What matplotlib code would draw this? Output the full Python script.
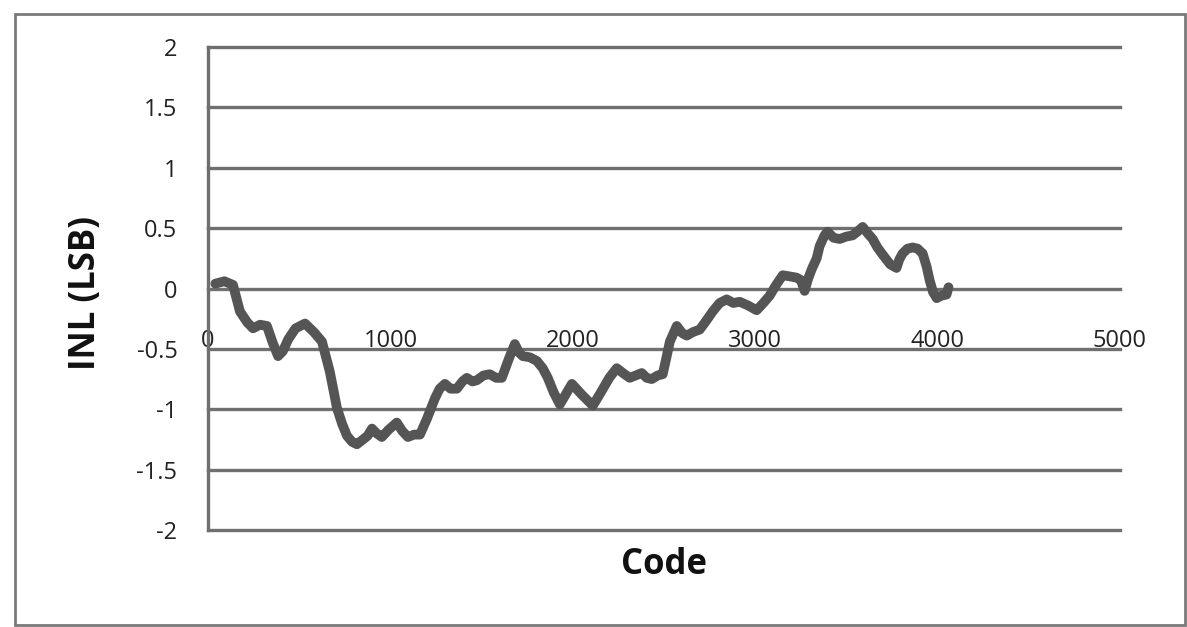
import matplotlib

matplotlib.use("Agg")
import matplotlib.pyplot as plt
from matplotlib.patches import Rectangle

# INL of a 12-bit converter, sampled along the code range
codes = [
    40, 90, 137, 175, 215, 247, 285, 323, 355, 384, 410, 440, 480, 532, 580, 625,
    668, 707, 735, 762, 790, 816, 850, 875, 899, 925, 953, 990, 1035, 1065, 1096,
    1130, 1162, 1200, 1244, 1270, 1299, 1330, 1364, 1395, 1419, 1450, 1474, 1510,
    1545, 1580, 1611, 1650, 1682, 1705, 1726, 1765, 1803, 1835, 1863, 1895, 1929,
    1960, 1995, 2050, 2110, 2150, 2200, 2241, 2275, 2312, 2345, 2378, 2405, 2433,
    2465, 2493, 2515, 2532, 2570, 2600, 2625, 2660, 2696, 2730, 2767, 2805, 2844,
    2880, 2915, 2960, 3008, 3045, 3079, 3115, 3151, 3190, 3227, 3250, 3271, 3290,
    3310, 3337, 3353, 3380, 3397, 3430, 3463, 3500, 3534, 3560, 3589, 3615, 3644,
    3670, 3699, 3740, 3775, 3790, 3808, 3835, 3863, 3890, 3918, 3940, 3956, 3975,
    3995, 4020, 4049, 4060,
]
inl = [
    0.04, 0.06, 0.03, -0.19, -0.28, -0.33, -0.30, -0.31, -0.45, -0.56, -0.52, -0.42,
    -0.33, -0.29, -0.36, -0.44, -0.69, -0.99, -1.12, -1.22, -1.27, -1.29, -1.25,
    -1.22, -1.16, -1.20, -1.23, -1.17, -1.11, -1.18, -1.23, -1.21, -1.21, -1.08,
    -0.91, -0.83, -0.79, -0.83, -0.83, -0.77, -0.74, -0.77, -0.76, -0.72, -0.71,
    -0.74, -0.74, -0.58, -0.46, -0.53, -0.56, -0.57, -0.60, -0.66, -0.74, -0.86,
    -0.96, -0.88, -0.79, -0.88, -0.97, -0.87, -0.74, -0.66, -0.70, -0.74, -0.72,
    -0.70, -0.74, -0.75, -0.72, -0.71, -0.56, -0.44, -0.31, -0.37, -0.39, -0.36,
    -0.34, -0.27, -0.19, -0.12, -0.09, -0.12, -0.11, -0.14, -0.18, -0.12, -0.06,
    0.03, 0.11, 0.10, 0.09, 0.07, -0.02, 0.08, 0.16, 0.25, 0.35, 0.44, 0.47, 0.42,
    0.41, 0.43, 0.44, 0.47, 0.51, 0.46, 0.41, 0.34, 0.28, 0.20, 0.17, 0.24, 0.29,
    0.33, 0.34, 0.33, 0.29, 0.18, 0.07, -0.03, -0.08, -0.06, -0.05, 0.01,
]
x_ticks = [0, 1000, 2000, 3000, 4000, 5000]
y_ticks = [-2, -1.5, -1, -0.5, 0, 0.5, 1, 1.5, 2]

GRID = "#6f6f6f"
LINE = "#555555"

plt.rcParams["font.family"] = ["Open Sans", "DejaVu Sans"]

fig = plt.figure(figsize=(11.87, 6.27), dpi=100)
ax = fig.add_axes([208 / 1187, 1 - 530 / 627, (1120 - 208) / 1187, (530 - 47) / 627])

for y in y_ticks:
    ax.axhline(y, color=GRID, linewidth=2.4, clip_on=False, zorder=1)

ax.plot(codes, inl, color=LINE, linewidth=7.0, solid_joinstyle="round",
        solid_capstyle="round", zorder=3)

ax.set_xlim(0, 5000)
ax.set_ylim(-2, 2)
ax.set_xticks(x_ticks)
ax.set_xticklabels([str(t) for t in x_ticks])
ax.set_yticks(y_ticks)
ax.set_yticklabels(["%g" % t for t in y_ticks])

for side in ["top", "right"]:
    ax.spines[side].set_visible(False)
ax.spines["left"].set_color(GRID)
ax.spines["left"].set_linewidth(2.4)
ax.spines["bottom"].set_position(("data", 0))
ax.spines["bottom"].set_visible(False)

ax.tick_params(axis="x", length=0, pad=29, labelsize=17, labelcolor="#222222")
ax.tick_params(axis="y", length=0, pad=22, labelsize=17, labelcolor="#222222")

fig.text(664 / 1187, 1 - 565 / 627, "Code", fontsize=25, fontweight="bold",
         ha="center", va="center", color="#111111")
fig.text(86 / 1187, 1 - 293 / 627, "INL (LSB)", fontsize=25, fontweight="bold",
         rotation=90, ha="center", va="center", color="#111111")

# chart frame around everything
fig.patches.append(Rectangle((15 / 1187, 2 / 627), 1170 / 1187, 611 / 627,
                             transform=fig.transFigure, fill=False,
                             edgecolor="#7a7a7a", linewidth=2.0))

fig.savefig("out.png", dpi=100)
